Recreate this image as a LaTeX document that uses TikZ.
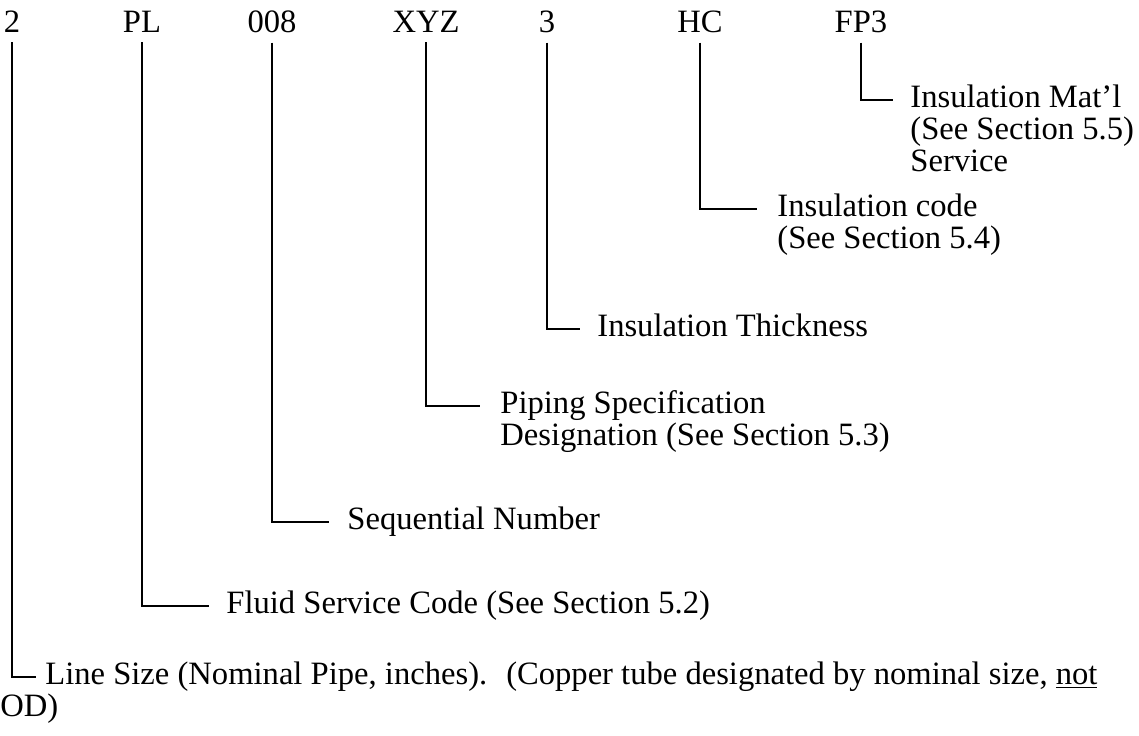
\documentclass[tikz,border=0pt]{standalone}
\usepackage{fontspec}
\setmainfont{Liberation Serif}
\begin{document}
\begin{tikzpicture}[x=0.5pt,y=-0.5pt,
  every node/.style={inner sep=0pt,font=\fontsize{16.3}{17}\selectfont},
  code/.style={anchor=base},
  desc/.style={anchor=base west},
  lead/.style={line width=0.9pt}]
\useasboundingbox (0,0) rectangle (1139,735);
% the line number, field by field
\node[code] (sz) at (12,32) {2};
\node[code] (fl) at (142,32) {PL};
\node[code] (sq) at (272,32) {008};
\node[code] (ps) at (426,32) {XYZ};
\node[code] (th) at (547,32) {3};
\node[code] (ic) at (700,32) {HC};
\node[code] (im) at (861,32) {FP3};
% what each field means
\node[desc] (imd) at (910,107) {Insulation Mat’l};
\node[desc] (imd2) at (910,139) {(See Section 5.5)};
\node[desc] (imd3) at (910,171) {Service};
\node[desc] (icd) at (777,216) {Insulation code};
\node[desc] (icd2) at (777,248) {(See Section 5.4)};
\node[desc] (thd) at (597,336) {Insulation Thickness};
\node[desc] (psd) at (500,413) {Piping Specification};
\node[desc] (psd2) at (500,445) {Designation (See Section 5.3)};
\node[desc] (sqd) at (347,529) {Sequential Number};
\node[desc] (fld) at (226,613) {Fluid Service Code (See Section 5.2)};
\node[desc] (szd) at (45,684) {Line Size (Nominal Pipe, inches).~ (Copper tube designated by nominal size, \underline{not}};
\node[desc] (szd2) at (0,716) {OD)};
% leaders
\draw[lead] ([yshift=-5pt]im.south) |- ([xshift=-8.5pt,yshift=3.6pt]imd.base west);
\draw[lead] ([yshift=-5pt]ic.south) |- ([xshift=-10pt,yshift=3.6pt]icd.base west);
\draw[lead] ([yshift=-5pt]th.south) |- ([xshift=-8.5pt,yshift=3.6pt]thd.base west);
\draw[lead] ([yshift=-5pt]ps.south) |- ([xshift=-10pt,yshift=3.6pt]psd.base west);
\draw[lead] ([yshift=-5pt]sq.south) |- ([xshift=-9pt,yshift=3.6pt]sqd.base west);
\draw[lead] ([yshift=-5pt]fl.south) |- ([xshift=-8.5pt,yshift=3.6pt]fld.base west);
\draw[lead] ([yshift=-5pt]sz.south) |- ([xshift=-4.5pt,yshift=3.6pt]szd.base west);
\end{tikzpicture}
\end{document}
